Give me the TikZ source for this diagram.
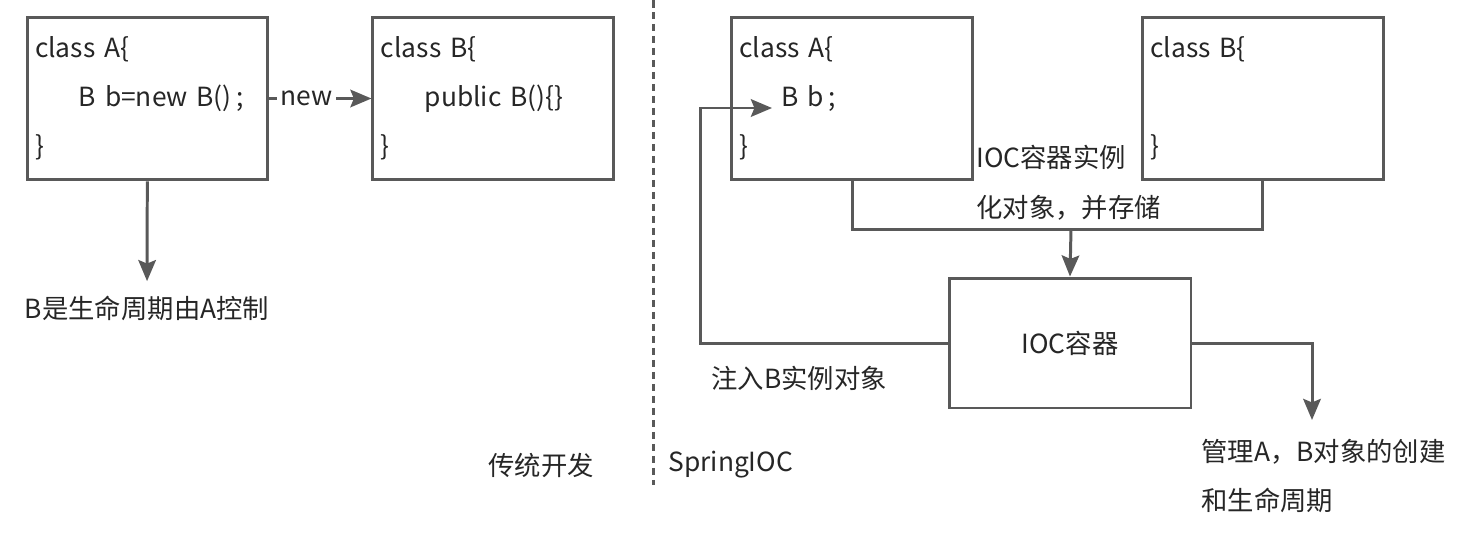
\documentclass[tikz,border=0pt]{standalone}
\usepackage{fontspec}
\setmainfont{Noto Sans CJK SC}
\usetikzlibrary{arrows.meta,positioning}
\definecolor{linegray}{HTML}{595959}
\definecolor{textgray}{HTML}{262626}

\begin{document}
\begin{tikzpicture}[x=0.02cm,y=-0.02cm,->,>={Stealth[length=12pt,width=10pt,inset=2pt]},
    line width=1.7pt,color=linegray,
    class box/.style={draw,rectangle,minimum width=4.82cm,minimum height=3.26cm,
      text width=4.5cm,inner xsep=0.16cm,align=left,text=textgray,
      font=\fontsize{15}{27.8}\selectfont},
    note/.style={inner sep=0pt,align=left,text=textgray,
      font=\fontsize{15}{28.35}\selectfont}]

    \useasboundingbox (0,0) rectangle (1480,538);

    % Traditional way
    \node[class box] (a1) at (147.5,98.5) {class A\{\\\hspace*{25pt}B b=new B()\,;\\\}};
    \node[class box] (b1) [right=2.04cm of a1] {class B\{\\\hspace*{25pt}public B()\{\}\\\}};
    \node[note] (life) at (147,308) {B是生命周期由A控制};
    \node[note,anchor=west] (trad) at (487,465) {传统开发};

    % Divider
    \draw[-,dash pattern=on 0.15cm off 0.09cm] (653,0) -- (653,485);

    % Spring IOC
    \node[note,anchor=west] (spring) at (667,465) {SpringIOC};
    \node[class box] (a2) at (852,98.5) {class A\{\\\hspace*{24pt}B b\,;\\\}};
    \node[class box] (b2) [right=3.34cm of a2] {class B\{\\\mbox{}\\\}};
    \node[draw,rectangle,minimum width=4.84cm,minimum height=2.6cm,text=textgray,
      font=\fontsize{15}{18}\selectfont] (ioc) at (1070,343) {IOC容器};
    \node[note,anchor=west] (store) at (975,183) {IOC容器实例\\化对象，并存储};
    \node[note,anchor=west] (inject) at (710,378) {注入B实例对象};
    \node[note,anchor=west] (manage) at (1200,476) {管理A，B对象的创建\\和生命周期};

    \coordinate (join) at (1071,229);
    \coordinate (bend) at (700,108);
    \coordinate (bfield) at (772,108);
    \coordinate (mgmt) at (1312,420);

    % Connections
    \draw (a1) -- node[note,fill=white,inner sep=2pt,pos=0.36] {new} (b1);
    \draw[shorten >=0.26cm] (a1) -- (life);
    \draw[-] (a2.south) |- (join) -| (b2.south);
    \draw (join) -- (ioc.north);
    \draw (ioc.west) -| (bend) -- (bfield);
    \draw (ioc.east) -| (mgmt);
\end{tikzpicture}
\end{document}
